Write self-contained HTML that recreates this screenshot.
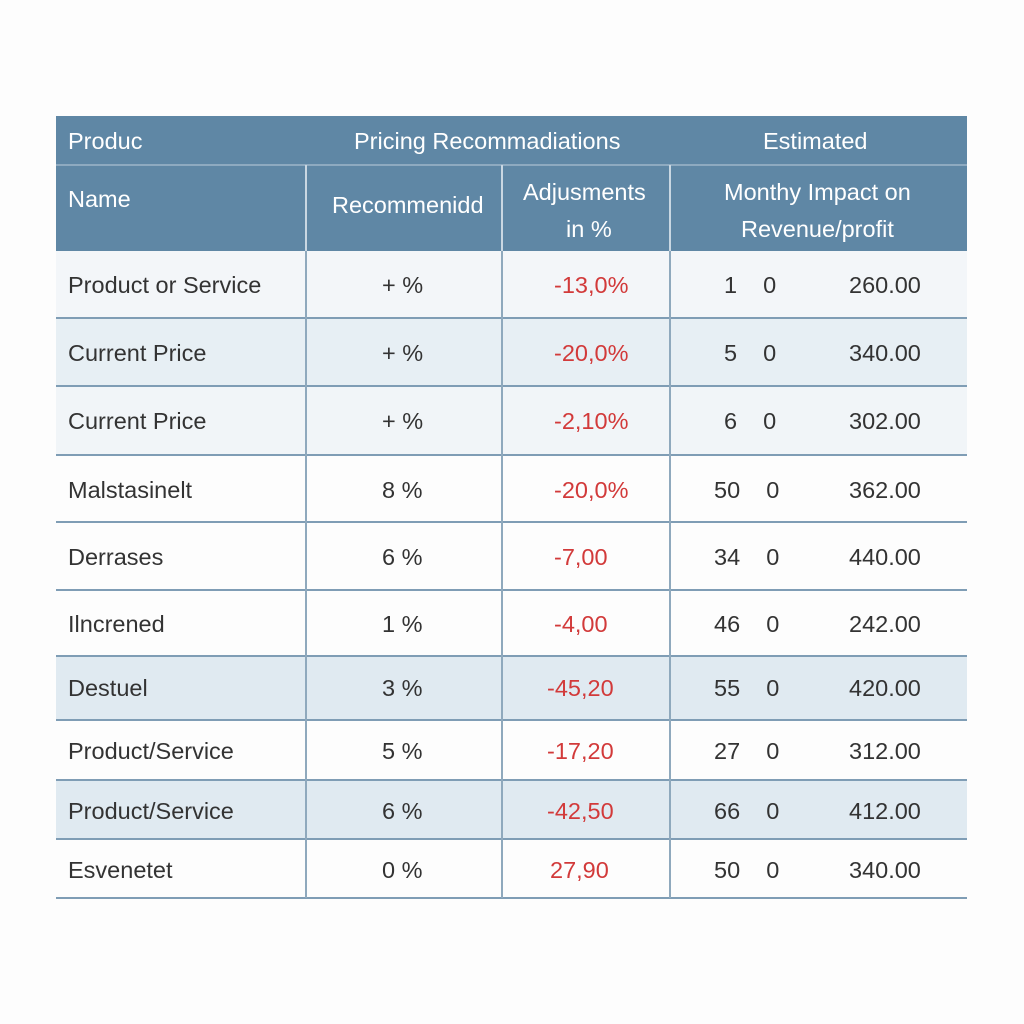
<!DOCTYPE html>
<html><head><meta charset="utf-8"><style>
body{margin:0;width:1024px;height:1024px;background:#fdfdfd;font-family:"Liberation Sans",sans-serif;position:relative;overflow:hidden}
.a{position:absolute}
.h{background:#5f87a5;color:#fff}
.t{position:absolute;font-size:23.5px;color:#333;white-space:nowrap}
.r{color:#d23a3a}
.hl{position:absolute;left:56px;width:911px;height:2px;background:#7f9db5}
.vl{position:absolute;width:2px;background:#8fa9bd}
</style></head><body>
<div class="a h" style="left:56px;top:116px;width:911px;height:135px"></div>
<div class="a" style="left:56px;top:164px;width:911px;height:2px;background:#8eaac0"></div>
<div class="t" style="left:68px;top:128px;color:#fff">Produc</div>
<div class="t" style="left:354px;top:128px;color:#fff">Pricing Recommadiations</div>
<div class="t" style="left:763px;top:128px;color:#fff">Estimated</div>
<div class="t" style="left:68px;top:186px;color:#fff">Name</div>
<div class="t" style="left:332px;top:192px;color:#fff">Recommenidd</div>
<div class="t" style="left:523px;top:179px;color:#fff">Adjusments</div>
<div class="t" style="left:566px;top:216px;color:#fff">in %</div>
<div class="t" style="left:724px;top:179px;color:#fff">Monthy Impact on</div>
<div class="t" style="left:741px;top:216px;color:#fff">Revenue/profit</div>
<div class="vl" style="left:305px;top:165px;height:86px;background:#c9d7e2"></div>
<div class="vl" style="left:501px;top:165px;height:86px;background:#c9d7e2"></div>
<div class="vl" style="left:669px;top:165px;height:86px;background:#c9d7e2"></div>

<div class="a" style="left:56px;top:251px;width:911px;height:67px;background:#f3f6f9"></div>
<div class="a" style="left:56px;top:318px;width:911px;height:68px;background:#e7eff4"></div>
<div class="a" style="left:56px;top:386px;width:911px;height:69px;background:#f1f5f8"></div>
<div class="a" style="left:56px;top:656px;width:911px;height:64px;background:#e0eaf1"></div>
<div class="a" style="left:56px;top:780px;width:911px;height:59px;background:#e0eaf1"></div>

<div class="hl" style="top:317px"></div><div class="hl" style="top:385px"></div>
<div class="hl" style="top:454px"></div><div class="hl" style="top:521px"></div>
<div class="hl" style="top:589px"></div><div class="hl" style="top:655px"></div>
<div class="hl" style="top:719px"></div><div class="hl" style="top:779px"></div>
<div class="hl" style="top:838px"></div><div class="hl" style="top:897px"></div>
<div class="vl" style="left:305px;top:251px;height:647px"></div>
<div class="vl" style="left:501px;top:251px;height:647px"></div>
<div class="vl" style="left:669px;top:251px;height:647px"></div>

<div class="t" style="left:68px;top:272px">Product or Service</div><div class="t" style="left:382px;top:272px">+ %</div><div class="t r" style="left:554px;top:272px">-13,0%</div><div class="t" style="left:724px;top:272px">1&nbsp;&nbsp;&nbsp;&nbsp;0</div><div class="t" style="left:849px;top:272px">260.00</div>
<div class="t" style="left:68px;top:340px">Current Price</div><div class="t" style="left:382px;top:340px">+ %</div><div class="t r" style="left:554px;top:340px">-20,0%</div><div class="t" style="left:724px;top:340px">5&nbsp;&nbsp;&nbsp;&nbsp;0</div><div class="t" style="left:849px;top:340px">340.00</div>
<div class="t" style="left:68px;top:408px">Current Price</div><div class="t" style="left:382px;top:408px">+ %</div><div class="t r" style="left:554px;top:408px">-2,10%</div><div class="t" style="left:724px;top:408px">6&nbsp;&nbsp;&nbsp;&nbsp;0</div><div class="t" style="left:849px;top:408px">302.00</div>
<div class="t" style="left:68px;top:477px">Malstasinelt</div><div class="t" style="left:382px;top:477px">8 %</div><div class="t r" style="left:554px;top:477px">-20,0%</div><div class="t" style="left:714px;top:477px">50&nbsp;&nbsp;&nbsp;&nbsp;0</div><div class="t" style="left:849px;top:477px">362.00</div>
<div class="t" style="left:68px;top:544px">Derrases</div><div class="t" style="left:382px;top:544px">6 %</div><div class="t r" style="left:554px;top:544px">-7,00</div><div class="t" style="left:714px;top:544px">34&nbsp;&nbsp;&nbsp;&nbsp;0</div><div class="t" style="left:849px;top:544px">440.00</div>
<div class="t" style="left:68px;top:611px">Ilncrened</div><div class="t" style="left:382px;top:611px">1 %</div><div class="t r" style="left:554px;top:611px">-4,00</div><div class="t" style="left:714px;top:611px">46&nbsp;&nbsp;&nbsp;&nbsp;0</div><div class="t" style="left:849px;top:611px">242.00</div>
<div class="t" style="left:68px;top:675px">Destuel</div><div class="t" style="left:382px;top:675px">3 %</div><div class="t r" style="left:547px;top:675px">-45,20</div><div class="t" style="left:714px;top:675px">55&nbsp;&nbsp;&nbsp;&nbsp;0</div><div class="t" style="left:849px;top:675px">420.00</div>
<div class="t" style="left:68px;top:738px">Product/Service</div><div class="t" style="left:382px;top:738px">5 %</div><div class="t r" style="left:547px;top:738px">-17,20</div><div class="t" style="left:714px;top:738px">27&nbsp;&nbsp;&nbsp;&nbsp;0</div><div class="t" style="left:849px;top:738px">312.00</div>
<div class="t" style="left:68px;top:798px">Product/Service</div><div class="t" style="left:382px;top:798px">6 %</div><div class="t r" style="left:547px;top:798px">-42,50</div><div class="t" style="left:714px;top:798px">66&nbsp;&nbsp;&nbsp;&nbsp;0</div><div class="t" style="left:849px;top:798px">412.00</div>
<div class="t" style="left:68px;top:857px">Esvenetet</div><div class="t" style="left:382px;top:857px">0 %</div><div class="t r" style="left:550px;top:857px">27,90</div><div class="t" style="left:714px;top:857px">50&nbsp;&nbsp;&nbsp;&nbsp;0</div><div class="t" style="left:849px;top:857px">340.00</div>
</body></html>
